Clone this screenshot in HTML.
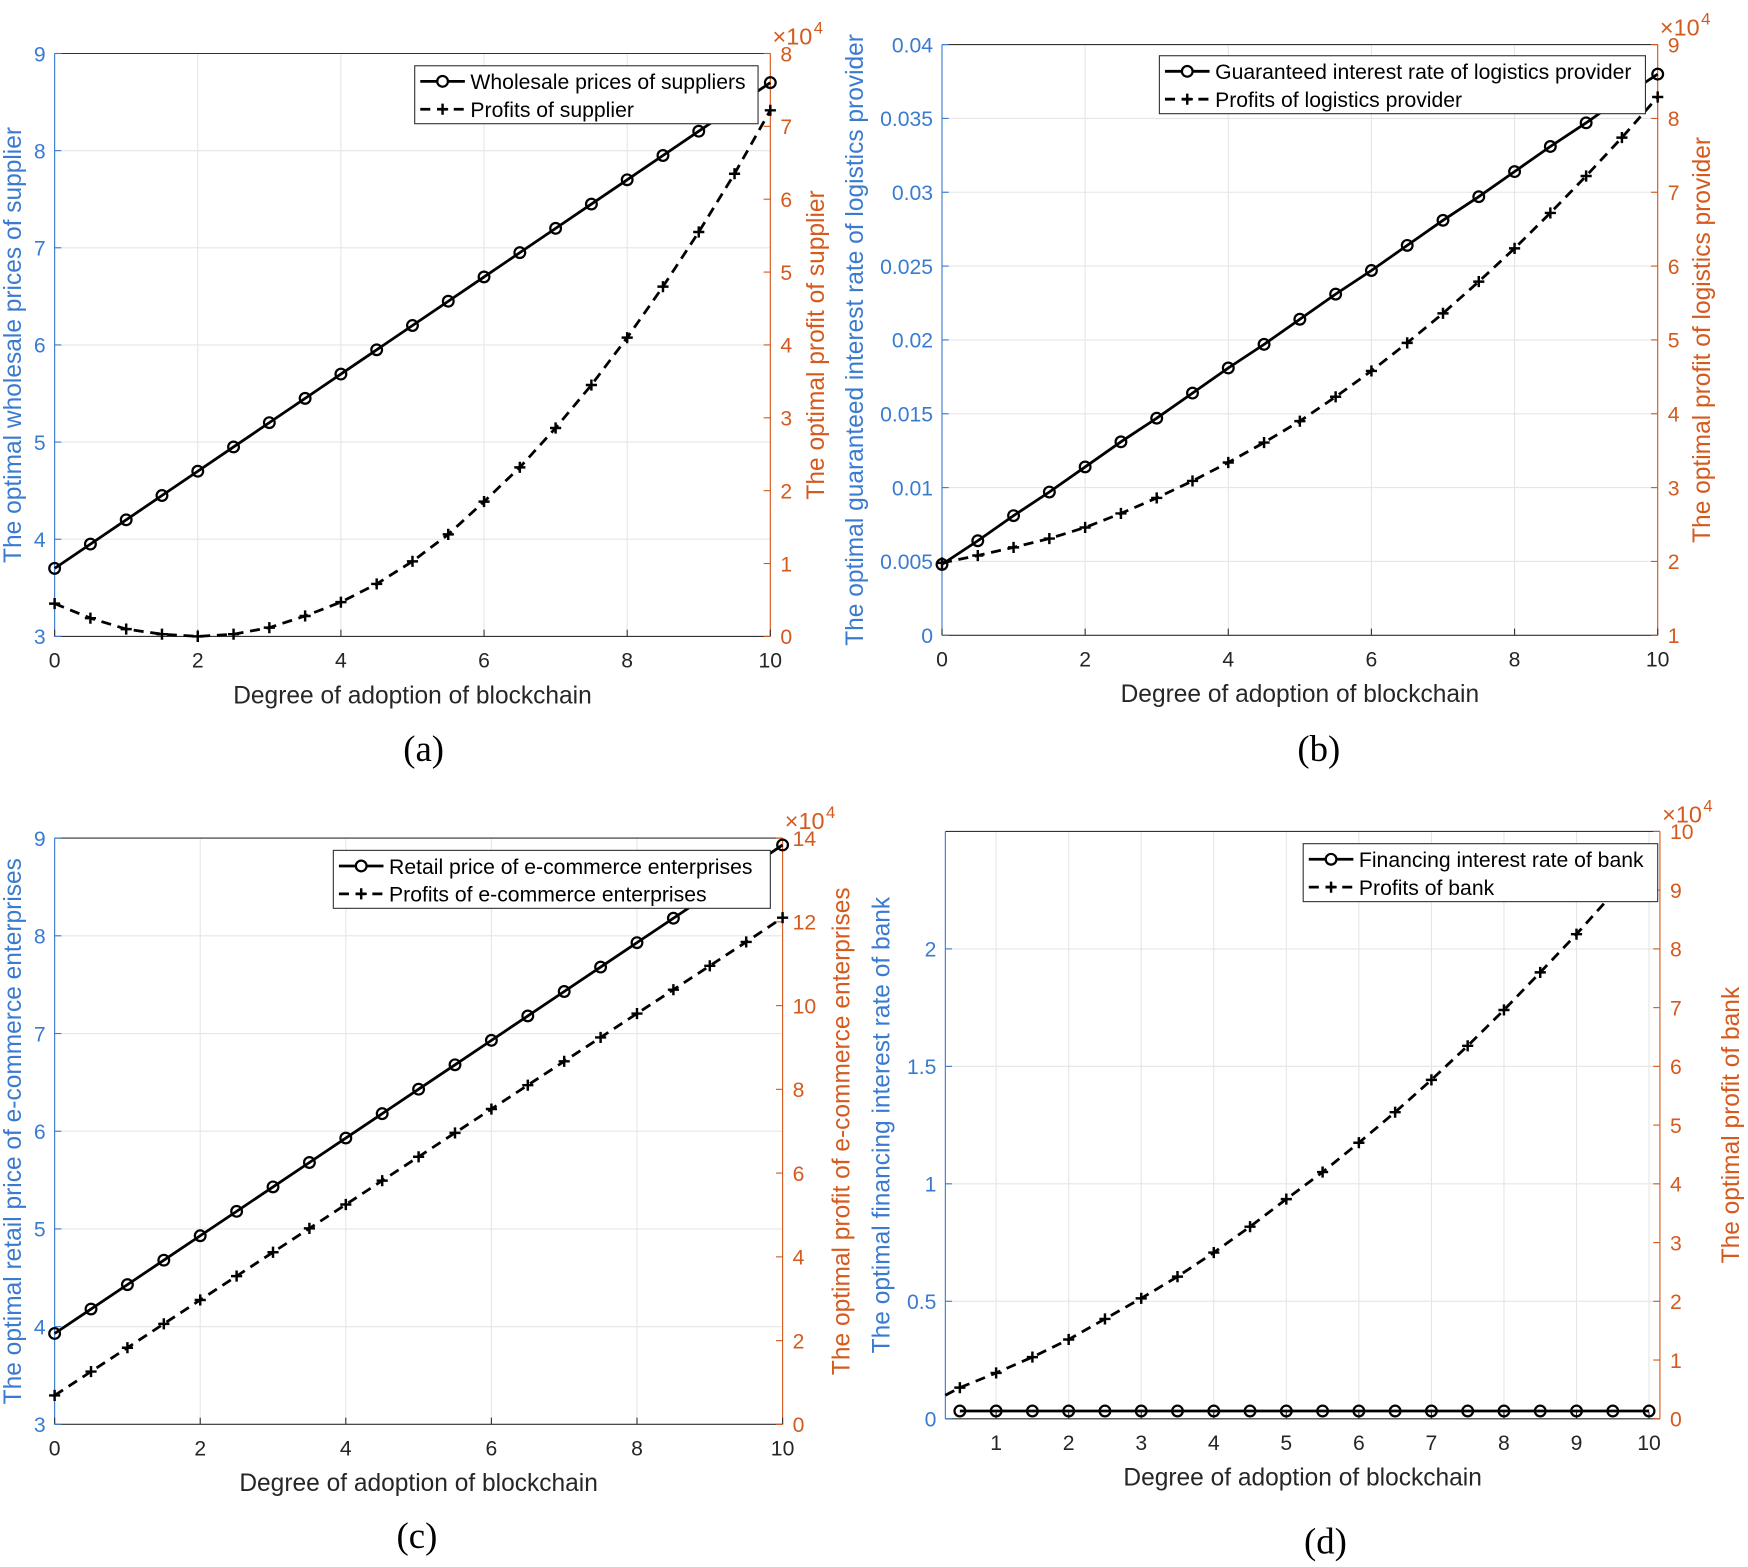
<!DOCTYPE html>
<html><head><meta charset="utf-8"><style>
html,body{margin:0;padding:0;background:#fff}
svg{display:block}
text{font-family:"Liberation Sans",sans-serif}
</style></head><body>
<svg id="fig" width="1748" height="1567" viewBox="0 0 1568 1406" preserveAspectRatio="none" xmlns="http://www.w3.org/2000/svg"></svg>
<script>
const xs = [0,0.5,1,1.5,2,2.5,3,3.5,4,4.5,5,5.5,6,6.5,7,7.5,8,8.5,9,9.5,10];
const wholesaleA = [3.7,3.95,4.2,4.45,4.7,4.95,5.2,5.45,5.7,5.95,6.2,6.45,6.7,6.95,7.2,7.45,7.7,7.95,8.2,8.45,8.7];
const profitA = [0.45,0.25,0.1,0.03,0.0,0.03,0.12,0.28,0.47,0.72,1.03,1.4,1.85,2.32,2.86,3.45,4.1,4.8,5.55,6.35,7.22];
const rateB = [0.0048,0.0064,0.0081,0.0097,0.0114,0.0131,0.0147,0.0164,0.0181,0.0197,0.0214,0.0231,0.0247,0.0264,0.0281,0.0297,0.0314,0.0331,0.0347,0.0364,0.038];
const profitB = [1.98,2.08,2.19,2.31,2.46,2.65,2.86,3.09,3.34,3.61,3.9,4.23,4.58,4.96,5.36,5.79,6.24,6.72,7.22,7.74,8.29];
const retailC = [3.93,4.18,4.43,4.68,4.93,5.18,5.43,5.68,5.93,6.18,6.43,6.68,6.93,7.18,7.43,7.68,7.93,8.18,8.43,8.68,8.93];
const profitC = [0.69,1.26,1.83,2.4,2.97,3.54,4.11,4.68,5.25,5.82,6.39,6.96,7.53,8.1,8.67,9.24,9.81,10.38,10.95,11.52,12.1];
const xsD = [0.3,0.5,1,1.5,2,2.5,3,3.5,4,4.5,5,5.5,6,6.5,7,7.5,8,8.5,9,9.5,10];
const rateD = [null,0.033,0.033,0.033,0.033,0.033,0.033,0.033,0.033,0.033,0.033,0.033,0.033,0.033,0.033,0.033,0.033,0.033,0.033,0.033,0.033];
const profitD = [0.4,0.53,0.78,1.05,1.35,1.7,2.05,2.42,2.83,3.27,3.74,4.2,4.7,5.22,5.77,6.35,6.96,7.6,8.25,8.94,9.64];

const NS="http://www.w3.org/2000/svg";
const svg=document.getElementById('fig');
const BLUE="#3a7bd0", ORANGE="#d45a1e";
function mk(tag,attrs,parent){const e=document.createElementNS(NS,tag);for(const k in attrs)e.setAttribute(k,attrs[k]);(parent||svg).appendChild(e);return e;}
function txt(s,attrs,parent){const e=mk('text',attrs,parent);e.textContent=s;return e;}

function panel(p){
  const g=mk('g',{});
  
  
  const X=v=>p.x0+(v-p.xmin)/(p.xmax-p.xmin)*(p.x1-p.x0);
  const YL=v=>p.y1-(v-p.lmin)/(p.lmax-p.lmin)*(p.y1-p.y0);
  const YR=v=>p.y1-(v-p.rmin)/(p.rmax-p.rmin)*(p.y1-p.y0);
  p.xticks.forEach(t=>{const l=mk('line',{x1:X(t),x2:X(t),y1:p.y0,y2:p.y1,stroke:'#e6e6e6','stroke-width':1},g);});
  p.lticks.forEach(t=>{const l=mk('line',{x1:p.x0,x2:p.x1,y1:YL(t),y2:YL(t),stroke:'#e6e6e6','stroke-width':1},g);});
  const top=mk('line',{x1:p.x0,x2:p.x1,y1:p.y0,y2:p.y0,stroke:'#333','stroke-width':1},g);
  
  const bot=mk('line',{x1:p.x0,x2:p.x1,y1:p.y1,y2:p.y1,stroke:'#333','stroke-width':1},g);
  
  const la=mk('line',{x1:p.x0,x2:p.x0,y1:p.y0,y2:p.y1,stroke:BLUE,'stroke-width':1},g);
  
  const ra=mk('line',{x1:p.x1,x2:p.x1,y1:p.y0,y2:p.y1,stroke:ORANGE,'stroke-width':1},g);
  
  p.xticks.forEach((t,i)=>{
    mk('line',{x1:X(t),x2:X(t),y1:p.y1,y2:p.y1-6,stroke:'#333'},g);
    const e=txt(p.xlabels[i],{x:X(t),y:p.y1+28,'font-size':19,fill:'#262626','text-anchor':'middle'},g);
    
  });
  p.lticks.forEach((t,i)=>{
    mk('line',{x1:p.x0,x2:p.x0+6,y1:YL(t),y2:YL(t),stroke:BLUE},g);
    const e=txt(p.llabels[i],{x:p.x0-8,y:YL(t)+7,'font-size':19,fill:BLUE,'text-anchor':'end'},g);
    
  });
  p.rticks.forEach((t,i)=>{
    mk('line',{x1:p.x1,x2:p.x1-6,y1:YR(t),y2:YR(t),stroke:ORANGE},g);
    const e=txt(p.rlabels[i],{x:p.x1+9,y:YR(t)+7,'font-size':19,fill:ORANGE,'text-anchor':'start'},g);
    
  });
  const ex=txt('×10',{x:p.x1+2,y:p.y0-8,'font-size':21,fill:ORANGE},g);
  
  txt('4',{x:p.x1+39,y:p.y0-18,'font-size':15,fill:ORANGE},g);
  const cy=(p.y0+p.y1)/2;
  const lt=txt(p.ltitle,{x:0,y:0,'font-size':22,fill:BLUE,'text-anchor':'middle',transform:`translate(${p.ltx},${cy}) rotate(-90)`},g);
  
  const rt=txt(p.rtitle,{x:0,y:0,'font-size':22,fill:ORANGE,'text-anchor':'middle',transform:`translate(${p.rtx},${cy}) rotate(-90)`},g);
  
  const xt=txt('Degree of adoption of blockchain',{x:(p.x0+p.x1)/2,y:p.y1+60,'font-size':22,fill:'#262626','text-anchor':'middle'},g);
  
  const pl=txt(p.label,{x:p.labx,y:p.laby,fill:'#000','text-anchor':'middle',style:'font-family:"Liberation Serif",serif;font-size:33px'},g);
  
  const pts1=[];p.xs.forEach((x,i)=>{if(p.s1[i]!=null)pts1.push([X(x),YL(p.s1[i])]);});
  const l1=mk('polyline',{points:pts1.map(a=>a.join(',')).join(' '),fill:'none',stroke:'#000','stroke-width':2.5},g);
  
  pts1.forEach(a=>{const c=mk('circle',{cx:a[0],cy:a[1],r:4.8,fill:'none',stroke:'#000','stroke-width':2},g);});
  const pts2=p.xs.map((x,i)=>[X(x),YR(p.s2[i])]);
  const l2=mk('polyline',{points:pts2.map(a=>a.join(',')).join(' '),fill:'none',stroke:'#000','stroke-width':2.5,'stroke-dasharray':'9,6'},g);
  
  pts2.forEach((a,i)=>{if(p.xs[i]<0.5&&p.skipFirst)return;const m=mk('path',{d:`M${a[0]-5},${a[1]}h10M${a[0]},${a[1]-5}v10`,stroke:'#000','stroke-width':2.2},g);});
  const L=p.leg;
  const lg=mk('g',{},g);
  mk('rect',{x:L.x,y:L.y,width:L.w,height:52,fill:'#fff',stroke:'#333','stroke-width':1},lg);
  mk('line',{x1:L.x+5,x2:L.x+45,y1:L.y+14,y2:L.y+14,stroke:'#000','stroke-width':2.5},lg);
  mk('circle',{cx:L.x+25,cy:L.y+14,r:4.8,fill:'#fff',stroke:'#000','stroke-width':2},lg);
  mk('line',{x1:L.x+5,x2:L.x+45,y1:L.y+39,y2:L.y+39,stroke:'#000','stroke-width':2.5,'stroke-dasharray':'9,6'},lg);
  mk('path',{d:`M${L.x+20},${L.y+39}h10M${L.x+25},${L.y+34}v10`,stroke:'#000','stroke-width':2.2},lg);
  const e1=txt(p.leg1,{x:L.x+50,y:L.y+21,'font-size':19,fill:'#000'},lg);
  const e2=txt(p.leg2,{x:L.x+50,y:L.y+46,'font-size':19,fill:'#000'},lg);
}
const r=(a,b,s)=>{const o=[];for(let v=a;v<=b+1e-9;v+=s)o.push(+v.toFixed(4));return o;};
panel({name:'panel-a',x0:49,x1:691,y0:48,y1:571,xmin:0,xmax:10,lmin:3,lmax:9,rmin:0,rmax:8,
  xticks:[0,2,4,6,8,10],xlabels:['0','2','4','6','8','10'],
  lticks:r(3,9,1),llabels:['3','4','5','6','7','8','9'],rticks:r(0,8,1),rlabels:['0','1','2','3','4','5','6','7','8'],
  ltitle:'The optimal wholesale prices of supplier',rtitle:'The optimal profit of supplier',ltx:19,rtx:739,
  xs:xs,s1:wholesaleA,s2:profitA,leg:{x:372,y:59,w:308},leg1:'Wholesale prices of suppliers',leg2:'Profits of supplier',label:'(a)',labx:380,laby:683});
panel({name:'panel-b',x0:845,x1:1487,y0:40,y1:570,xmin:0,xmax:10,lmin:0,lmax:0.04,rmin:1,rmax:9,
  xticks:[0,2,4,6,8,10],xlabels:['0','2','4','6','8','10'],
  lticks:r(0,0.04,0.005),llabels:['0','0.005','0.01','0.015','0.02','0.025','0.03','0.035','0.04'],rticks:r(1,9,1),rlabels:['1','2','3','4','5','6','7','8','9'],
  ltitle:'The optimal guaranteed interest rate of logistics provider',rtitle:'The optimal profit of logistics provider',ltx:774,rtx:1534,
  xs:xs,s1:rateB,s2:profitB,leg:{x:1040,y:50,w:436},leg1:'Guaranteed interest rate of logistics provider',leg2:'Profits of logistics provider',label:'(b)',labx:1183,laby:683});
panel({name:'panel-c',x0:49,x1:702,y0:752,y1:1278,xmin:0,xmax:10,lmin:3,lmax:9,rmin:0,rmax:14,
  xticks:[0,2,4,6,8,10],xlabels:['0','2','4','6','8','10'],
  lticks:r(3,9,1),llabels:['3','4','5','6','7','8','9'],rticks:r(0,14,2),rlabels:['0','2','4','6','8','10','12','14'],
  ltitle:'The optimal retail price of e-commerce enterprises',rtitle:'The optimal profit of e-commerce enterprises',ltx:19,rtx:762,
  xs:xs,s1:retailC,s2:profitC,leg:{x:299,y:763,w:392},leg1:'Retail price of e-commerce enterprises',leg2:'Profits of e-commerce enterprises',label:'(c)',labx:374,laby:1389});
panel({name:'panel-d',x0:848,x1:1489,y0:746,y1:1273,xmin:0.3,xmax:10.15,lmin:0,lmax:2.5,rmin:0,rmax:10,
  xticks:r(1,10,1),xlabels:['1','2','3','4','5','6','7','8','9','10'],
  lticks:[0,0.5,1,1.5,2],llabels:['0','0.5','1','1.5','2'],rticks:r(0,10,1),rlabels:['0','1','2','3','4','5','6','7','8','9','10'],
  ltitle:'The optimal financing interest rate of bank',rtitle:'The optimal profit of bank',ltx:798,rtx:1560,
  xs:xsD,s1:rateD,s2:profitD,skipFirst:true,leg:{x:1169,y:757,w:318},leg1:'Financing interest rate of bank',leg2:'Profits of bank',label:'(d)',labx:1189,laby:1394});
</script>
</body></html>
